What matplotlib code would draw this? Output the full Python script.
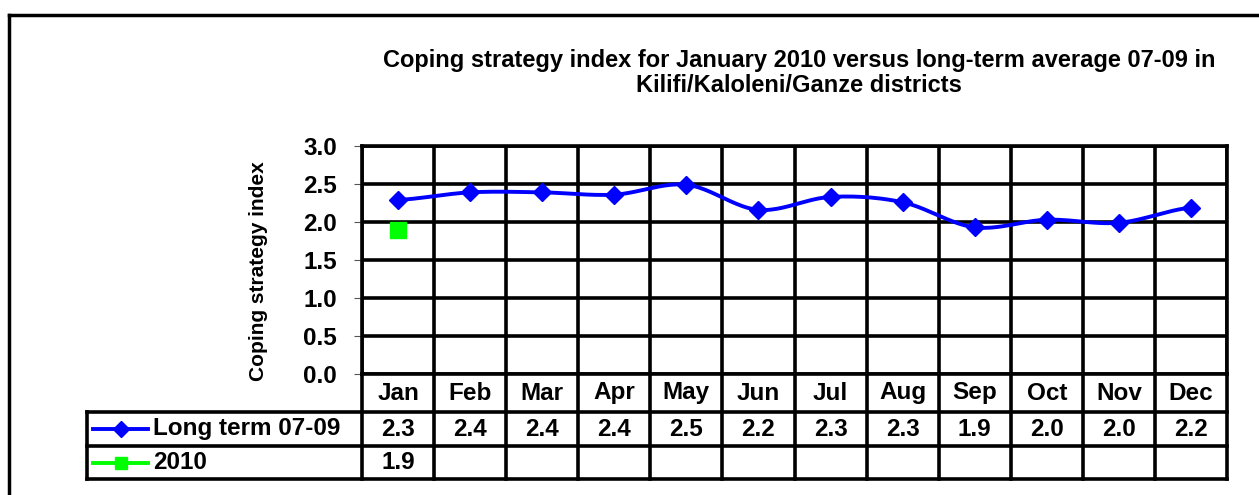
import matplotlib.pyplot as plt
import numpy as np
from matplotlib.lines import Line2D

plt.rcParams["font.family"] = ["Liberation Sans", "DejaVu Sans"]
plt.rcParams["font.weight"] = "bold"

MONTHS = ["Jan", "Feb", "Mar", "Apr", "May", "Jun",
          "Jul", "Aug", "Sep", "Oct", "Nov", "Dec"]
LONG_TERM = [2.29, 2.39, 2.39, 2.36, 2.49, 2.16, 2.33, 2.26, 1.93, 2.03, 1.99, 2.19]
YEAR_2010 = [1.89]
SERIES_NAMES = ["Long term 07-09", "2010"]
Y_TICKS = [0.0, 0.5, 1.0, 1.5, 2.0, 2.5, 3.0]
TITLE = ("Coping strategy index for January 2010 versus long-term average 07-09 in\n"
         "Kilifi/Kaloleni/Ganze districts")
Y_LABEL = "Coping strategy index"

W, H = 1259, 495
BLUE = "#0000ff"
GREEN = "#00ff00"
GRID_LW = 2.6
FS = 17.5


def fx(px):
    return px / W


def fy(py):
    return 1 - py / H


def smooth(xs, ys, n=24):
    """Catmull-Rom curve through the points, like Excel's smoothed line."""
    xs = np.asarray(xs, float)
    ys = np.asarray(ys, float)
    out_x, out_y = [xs[0]], [ys[0]]
    for i in range(len(ys) - 1):
        p0 = ys[max(i - 1, 0)]
        p1, p2 = ys[i], ys[i + 1]
        p3 = ys[min(i + 2, len(ys) - 1)]
        t = np.linspace(0, 1, n)[1:]
        seg = 0.5 * ((2 * p1) + (-p0 + p2) * t
                     + (2 * p0 - 5 * p1 + 4 * p2 - p3) * t ** 2
                     + (-p0 + 3 * p1 - 3 * p2 + p3) * t ** 3)
        out_x.extend(xs[i] + (xs[i + 1] - xs[i]) * t)
        out_y.extend(seg)
    return np.array(out_x), np.array(out_y)


fig = plt.figure(figsize=(W / 100, H / 100), dpi=100)

# outer chart border (runs off the right and bottom edges)
fig.add_artist(Line2D([fx(9), fx(9)], [fy(15), 0], color="black", lw=2.5))
fig.add_artist(Line2D([fx(9), 1], [fy(15), fy(15)], color="black", lw=2.5))

left, right, top, bottom = 362, 1227, 146, 374
ax = fig.add_axes([fx(left), fy(bottom), (right - left) / W, (bottom - top) / H])
ax.set_xlim(0, 12)
ax.set_ylim(0, 3)
ax.set_yticks(Y_TICKS)
ax.set_yticklabels([f"{v:.1f}" for v in Y_TICKS], fontsize=FS)
ax.set_xticks(np.arange(13))
ax.tick_params(axis="x", length=0, labelbottom=False)
ax.tick_params(axis="y", length=6, width=0.8, pad=12, color="#555555")
ax.grid(True, color="black", lw=GRID_LW)
for s in ax.spines.values():
    s.set_linewidth(GRID_LW)

x = np.arange(len(MONTHS)) + 0.5
sx, sy = smooth(x, LONG_TERM)
ax.plot(sx, sy, color=BLUE, lw=2.8, zorder=3)
ax.plot(x, LONG_TERM, ls="none", marker="D", ms=9, color=BLUE, zorder=4)
ax.plot(x[:len(YEAR_2010)], YEAR_2010, ls="none", marker="s", ms=11,
        color=GREEN, zorder=4)

fig.text(fx(259), fy(271), Y_LABEL, rotation=90, ha="center", va="center",
         fontsize=15)
fig.text(fx(799), fy(73), TITLE, ha="center", va="center", fontsize=17,
         linespacing=1.12)

# data table below the plot
tab_bottom = 479
tab = fig.add_axes([fx(left), fy(tab_bottom), (right - left) / W,
                    (tab_bottom - bottom) / H])
tab.set_xlim(0, 12)
tab.set_ylim(tab_bottom - bottom, 0)
tab.axis("off")
col_w = (right - left) / 12
leg_left = -(left - 87) / col_w
row_edges = [0, 38, 72, 105]

kw = dict(color="black", lw=GRID_LW, clip_on=False, solid_capstyle="projecting")
for k in range(13):
    tab.plot([k, k], [row_edges[0], row_edges[-1]], **kw)
tab.plot([leg_left, leg_left], [row_edges[1], row_edges[-1]], **kw)
for r in row_edges[1:]:
    tab.plot([leg_left, 12], [r, r], **kw)

for i, m in enumerate(MONTHS):
    tab.text(i + 0.5, (row_edges[0] + row_edges[1]) / 2, m, ha="center",
             va="center", fontsize=FS)

rows = [LONG_TERM, YEAR_2010]
styles = [(BLUE, "D", 8), (GREEN, "s", 9)]
for j, (vals, name, (c, mk, ms)) in enumerate(zip(rows, SERIES_NAMES, styles)):
    yc = (row_edges[j + 1] + row_edges[j + 2]) / 2
    for i, v in enumerate(vals):
        tab.text(i + 0.5, yc, f"{v:.1f}", ha="center", va="center", fontsize=FS)
    x0 = (93 - left) / col_w
    x1 = (148 - left) / col_w
    tab.plot([x0, x1], [yc, yc], color=c, lw=2.8, clip_on=False)
    tab.plot([(x0 + x1) / 2], [yc], marker=mk, ms=ms, color=c, clip_on=False)
    tab.text((153 - left) / col_w, yc, name, ha="left", va="center", fontsize=FS)

fig.savefig("out.png", dpi=100)
